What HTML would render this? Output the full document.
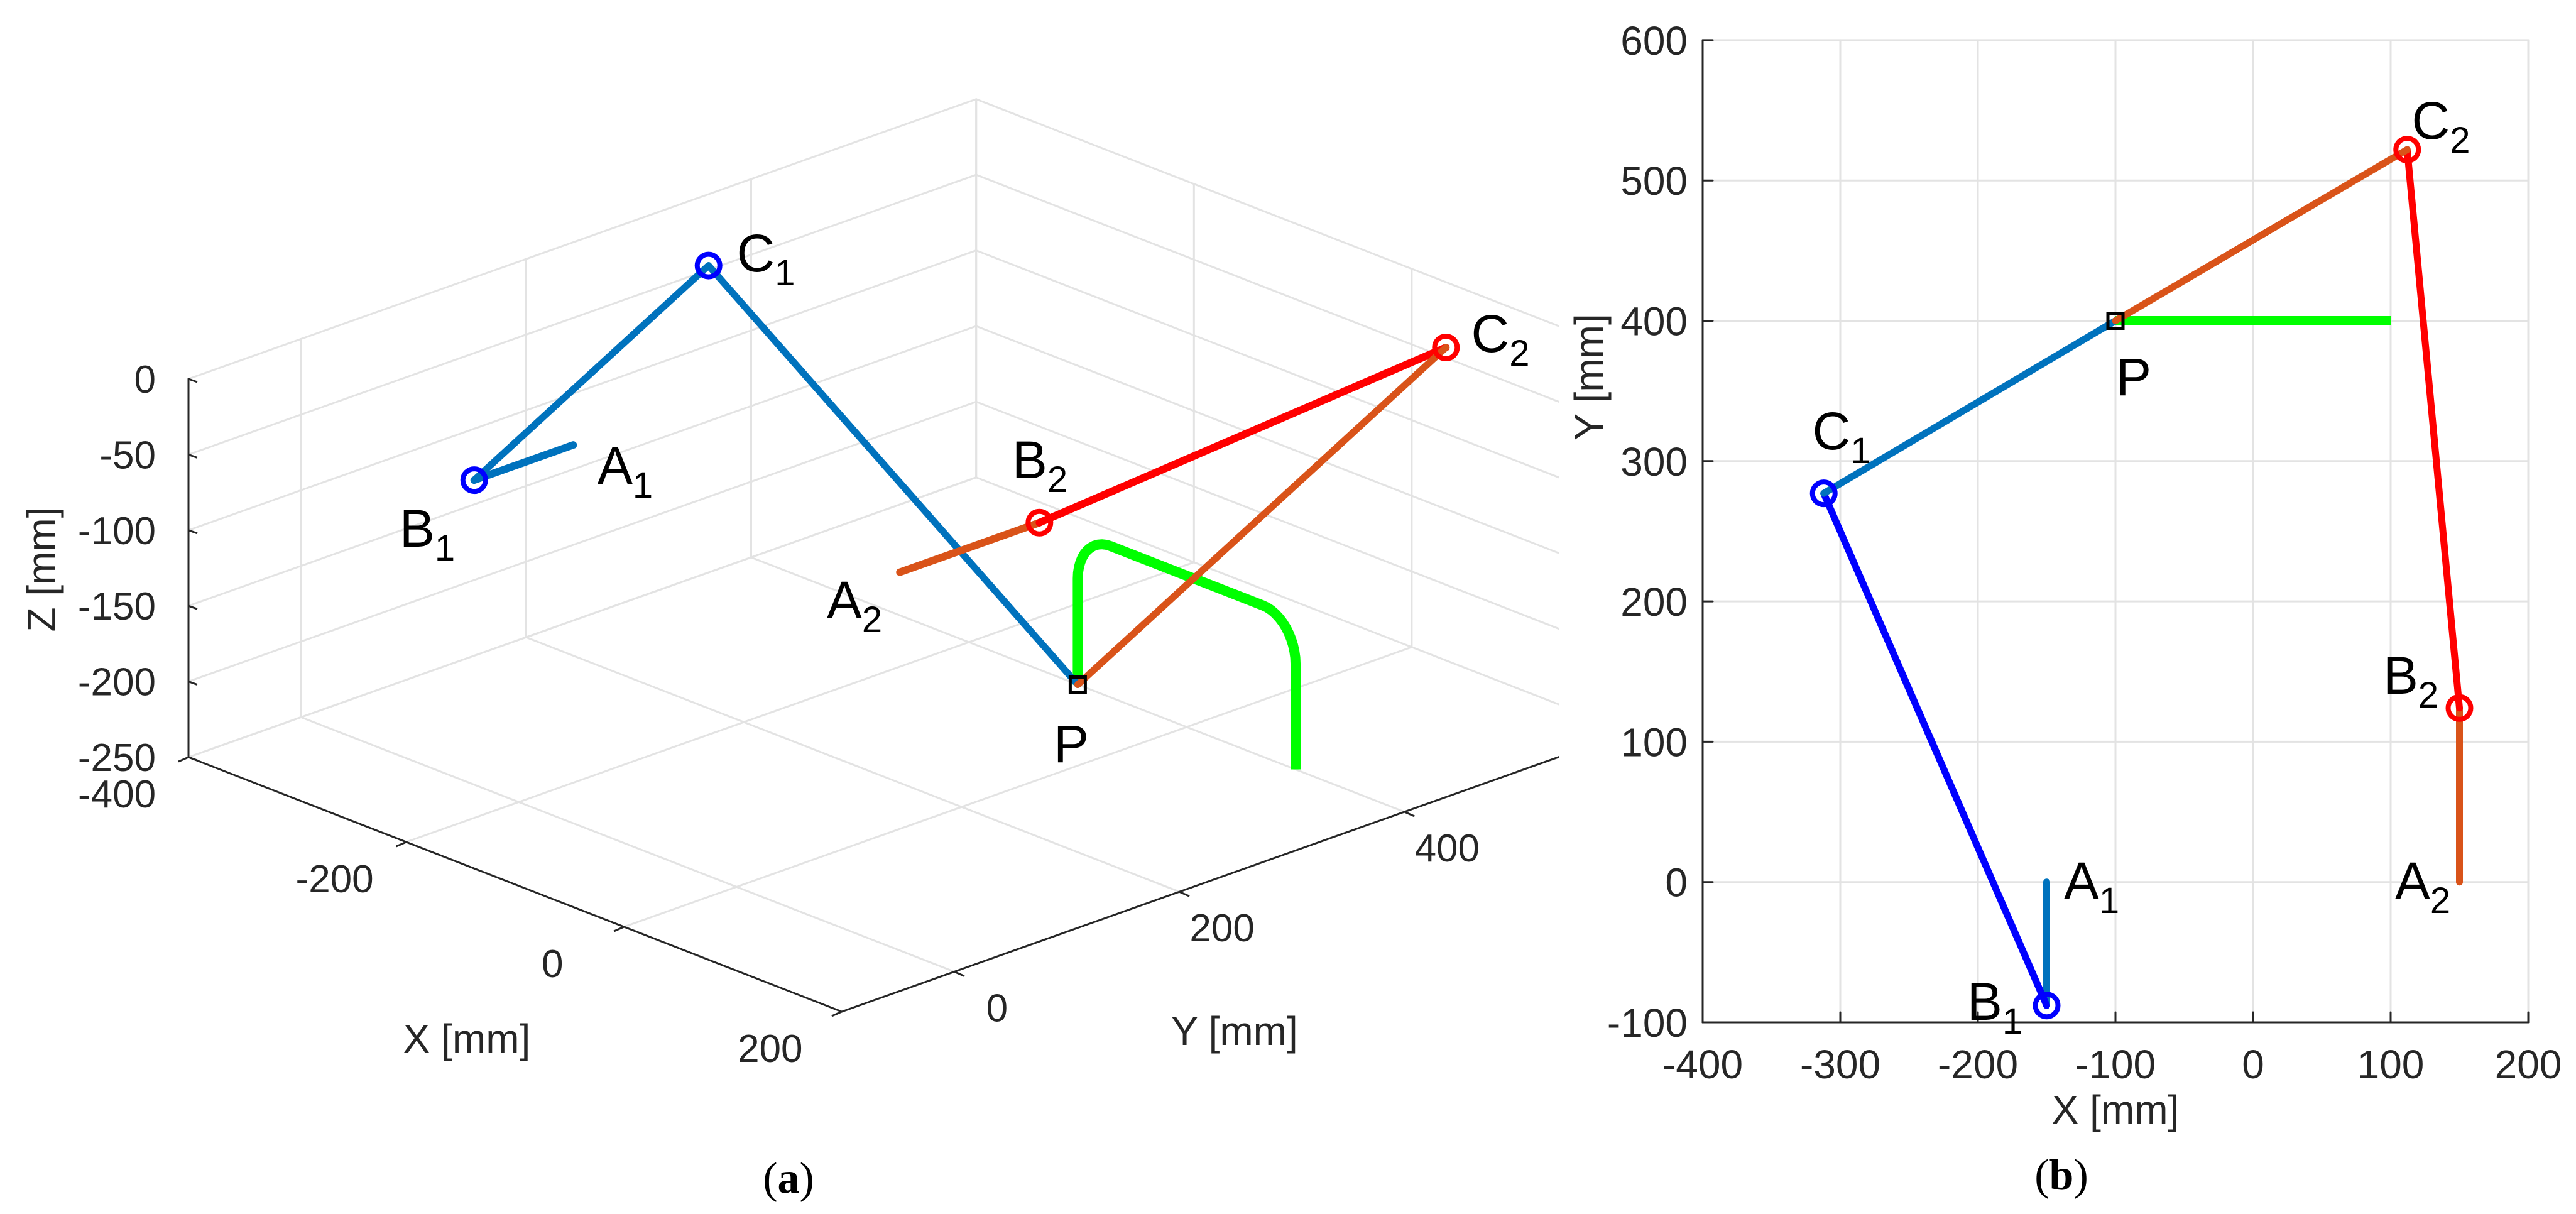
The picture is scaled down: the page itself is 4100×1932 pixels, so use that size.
<!DOCTYPE html>
<html><head><meta charset="utf-8"><style>
html,body{margin:0;padding:0;background:#fff;}
svg{display:block;font-family:"Liberation Sans",Arial,sans-serif;}
</style></head><body>
<svg id="fig" width="4100" height="1932" viewBox="0 0 4100 1932" xmlns="http://www.w3.org/2000/svg">
<defs><clipPath id="clip3d"><rect x="0" y="0" width="2482" height="1932"/></clipPath></defs>
<g id="p3d" clip-path="url(#clip3d)"></g>
<g id="p3dlab"></g>
<g id="p2d"></g>
<text x="1255" y="1898" font-family="Liberation Serif,serif" font-size="70" text-anchor="middle">(<tspan font-weight="bold">a</tspan>)</text>
<text x="3281" y="1893" font-family="Liberation Serif,serif" font-size="70" text-anchor="middle">(<tspan font-weight="bold">b</tspan>)</text>
</svg>
<script>
// ---- data ----
const pointNames = ['A1','B1','C1','P','C2','B2','A2'];
const pointX = [-150,-150,-312,-100,112,150,150];
const pointY = [0,-88,277,400,522,124,0];
const pointZ = [0,0,0,-250,0,0,0];
const pathX = [-100,100];
const pathY = [400,400];
const pathZlow = -250;
const pathZhigh = -150;
const cornerR = 30;
const xTicks2d = [-400,-300,-200,-100,0,100,200];
const yTicks2d = [-100,0,100,200,300,400,500,600];
const xTicks3d = [-400,-200,0,200];
const yTicks3d = [0,200,400];
const zTicks3d = [0,-50,-100,-150,-200,-250];
const zGrid3d = [0,-50,-100,-150,-200,-250];

const NS='http://www.w3.org/2000/svg';
function mk(parent,tag,attrs){const e=document.createElementNS(NS,tag);for(const k in attrs)e.setAttribute(k,attrs[k]);parent.appendChild(e);return e;}
const idx = n => pointNames.indexOf(n);

// ---- 3D projection ----
const XR=[-400,200],YR=[-100,600],ZR=[-250,0];
function P3(x,y,z){return [300+(x+400)*1.733+(y+100)*1.791, 1205+(x+400)*0.675-(y+100)*0.636-(z+250)*2.408];}
const g3=document.getElementById('p3d');
const g3l=document.getElementById('p3dlab');
function line3(g,a,b,st,w,name){const p=P3(...a),q=P3(...b);const e=mk(g,'line',{x1:p[0],y1:p[1],x2:q[0],y2:q[1],stroke:st,'stroke-width':w,'stroke-linecap':'round'});

return e;}
const GC='#e3e3e3';
zGrid3d.forEach(z=>line3(g3,[-400,YR[0],z],[-400,YR[1],z],GC,3,'grid-line'));
yTicks3d.concat([YR[1]]).forEach(y=>line3(g3,[-400,y,ZR[0]],[-400,y,ZR[1]],GC,3,'grid-line'));
zGrid3d.forEach(z=>line3(g3,[XR[0],600,z],[XR[1],600,z],GC,3,'grid-line'));
xTicks3d.forEach(x=>line3(g3,[x,600,ZR[0]],[x,600,ZR[1]],GC,3,'grid-line'));
xTicks3d.forEach(x=>line3(g3,[x,YR[0],-250],[x,YR[1],-250],GC,3,'grid-line'));
yTicks3d.forEach(y=>line3(g3,[XR[0],y,-250],[XR[1],y,-250],GC,3,'grid-line'));
line3(g3,[-400,-100,-250],[-400,-100,0],'#262626',3,'z-axis-line');
line3(g3,[-400,-100,-250],[200,-100,-250],'#262626',3,'x-axis-line');
line3(g3,[200,-100,-250],[200,600,-250],'#262626',3,'y-axis-line');
zTicks3d.forEach(z=>{const p=P3(-400,-100,z);
 const t=mk(g3,'line',{x1:p[0],y1:p[1],x2:p[0]+14,y2:p[1]+5,stroke:'#262626','stroke-width':3});
 
 
 const l=mk(g3l,'text',{x:p[0]-52,y:p[1]+22,'font-size':62,'text-anchor':'end',fill:'#262626'});l.textContent=z;
 
 });
xTicks3d.forEach(x=>{const p=P3(x,-100,-250);
 const t=mk(g3,'line',{x1:p[0],y1:p[1],x2:p[0]-16,y2:p[1]+7,stroke:'#262626','stroke-width':3});
 
 
 const l=mk(g3l,'text',{x:p[0]-114,y:p[1]+80,'font-size':62,'text-anchor':'middle',fill:'#262626'});l.textContent=x;
 
 });
yTicks3d.forEach(y=>{const p=P3(200,y,-250);
 const t=mk(g3,'line',{x1:p[0],y1:p[1],x2:p[0]+16,y2:p[1]+7,stroke:'#262626','stroke-width':3});
 
 
 const l=mk(g3l,'text',{x:p[0]+68,y:p[1]+79,'font-size':62,'text-anchor':'middle',fill:'#262626'});l.textContent=y;
 
 });
{let t=mk(g3l,'text',{x:743,y:1675,'font-size':64,'text-anchor':'middle',fill:'#262626'});t.textContent='X [mm]';


t=mk(g3l,'text',{x:1965,y:1663,'font-size':64,'text-anchor':'middle',fill:'#262626'});t.textContent='Y [mm]';


t=mk(g3l,'text',{x:0,y:0,'font-size':64,'text-anchor':'middle',fill:'#262626',transform:'translate(88,906) rotate(-90)'});t.textContent='Z [mm]';

}

const BLUE='#0072BD',ORANGE='#D95319',RED='#FF0000',PBLUE='#0000FF',GREEN='#00FF00';
function pt3(n){const i=idx(n);return [pointX[i],pointY[i],pointZ[i]];}
{const x0=pathX[0],x1=pathX[1],y=pathY[0];
 const pts=[];
 pts.push([x0,y,pathZlow]);
 for(let k=0;k<=12;k++){const a=Math.PI*(1-k/24);pts.push([x0+cornerR+cornerR*Math.cos(a),y,pathZhigh-cornerR+cornerR*Math.sin(a)]);}
 for(let k=0;k<=12;k++){const a=Math.PI/2-Math.PI/2*k/12;pts.push([x1-cornerR+cornerR*Math.cos(a),y,pathZhigh-cornerR+cornerR*Math.sin(a)]);}
 pts.push([x1,y,pathZlow]);
 const d=pts.map((p,i)=>{const q=P3(...p);return (i?'L':'M')+q[0].toFixed(1)+' '+q[1].toFixed(1);}).join(' ');
 const e=mk(g3,'path',{d:d,fill:'none',stroke:GREEN,'stroke-width':16,'stroke-linejoin':'round'});
 
 }
line3(g3,pt3('A1'),pt3('B1'),BLUE,12,'link-a1-b1');
line3(g3,pt3('B1'),pt3('C1'),BLUE,11,'link-b1-c1');
line3(g3,pt3('C1'),pt3('P'),BLUE,11,'link-c1-p');
line3(g3,pt3('A2'),pt3('B2'),ORANGE,12,'link-a2-b2');
line3(g3,pt3('B2'),pt3('C2'),RED,12,'link-b2-c2');
line3(g3,pt3('C2'),pt3('P'),ORANGE,11,'link-c2-p');
function marker(g,xy,col,name){const e=mk(g,'circle',{cx:xy[0],cy:xy[1],r:18,fill:'none',stroke:col,'stroke-width':8});
 
 }
function sq(g,xy,name){const e=mk(g,'rect',{x:xy[0]-12,y:xy[1]-12,width:24,height:24,fill:'none',stroke:'#000','stroke-width':5});
 
 }
marker(g3,P3(...pt3('B1')),PBLUE,'marker-b1');
marker(g3,P3(...pt3('C1')),PBLUE,'marker-c1');
marker(g3,P3(...pt3('B2')),RED,'marker-b2');
marker(g3,P3(...pt3('C2')),RED,'marker-c2');
sq(g3,P3(...pt3('P')),'marker-p');

function lab(g,cx,cy,main,sub,name){
 const t=mk(g,'text',{x:cx,y:cy+30,'font-size':84,'text-anchor':'middle',fill:'#000'});
 
 
 t.appendChild(document.createTextNode(main));
 if(sub){const s=mk(t,'tspan',{'font-size':58,dy:22});s.textContent=sub;}
}
lab(g3l,1219,402,'C','1','label-c1-3d');
lab(g3l,680,840,'B','1','label-b1-3d');
lab(g3l,995,740,'A','1','label-a1-3d');
lab(g3l,1360,954,'A','2','label-a2-3d');
lab(g3l,1655,731,'B','2','label-b2-3d');
lab(g3l,2388,530,'C','2','label-c2-3d');
lab(g3l,1705,1183,'P','','label-p-3d');

// ---- 2D ----
const g2=document.getElementById('p2d');
const sx=x=>2710+(x+400)*2.19, sy=y=>1627-(y+100)*2.233;
function ln(g,x1,y1,x2,y2,st,w,name){const e=mk(g,'line',{x1,y1,x2,y2,stroke:st,'stroke-width':w,'stroke-linecap':'round'});
 
 return e;}
xTicks2d.forEach(x=>ln(g2,sx(x),sy(-100),sx(x),sy(600),GC,3,'grid-line'));
yTicks2d.forEach(y=>ln(g2,sx(-400),sy(y),sx(200),sy(y),GC,3,'grid-line'));
ln(g2,sx(-400),sy(-100),sx(200),sy(-100),'#262626',3,'x-axis-line');
ln(g2,sx(-400),sy(-100),sx(-400),sy(600),'#262626',3,'y-axis-line');
xTicks2d.forEach(x=>{ln(g2,sx(x),sy(-100),sx(x),sy(-100)-16,'#262626',3,'x-tick');
 const t=mk(g2,'text',{x:sx(x),y:1716,'font-size':64,'text-anchor':'middle',fill:'#262626'});t.textContent=x;
 
 });
yTicks2d.forEach(y=>{ln(g2,sx(-400),sy(y),sx(-400)+16,sy(y),'#262626',3,'y-tick');
 const t=mk(g2,'text',{x:2686,y:sy(y)+23,'font-size':64,'text-anchor':'end',fill:'#262626'});t.textContent=y;
 
 });
{let t=mk(g2,'text',{x:3367,y:1788,'font-size':64,'text-anchor':'middle',fill:'#262626'});t.textContent='X [mm]';


t=mk(g2,'text',{x:0,y:0,'font-size':64,'text-anchor':'middle',fill:'#262626',transform:'translate(2551,600) rotate(-90)'});t.textContent='Y [mm]';

}
function p2(n){const i=idx(n);return [sx(pointX[i]),sy(pointY[i])];}
ln(g2,sx(pathX[0]),sy(pathY[0]),sx(pathX[1]),sy(pathY[1]),GREEN,15,'green-trajectory-2d').setAttribute('stroke-linecap','butt');
function seg(a,b,col,w,name){const p=p2(a),q=p2(b);ln(g2,p[0],p[1],q[0],q[1],col,w,name);}
seg('A1','B1',BLUE,11,'link-a1-b1-2d');
seg('B1','C1',PBLUE,11,'link-b1-c1-2d');
seg('C1','P',BLUE,11,'link-c1-p-2d');
seg('A2','B2',ORANGE,11,'link-a2-b2-2d');
seg('B2','C2',RED,11,'link-b2-c2-2d');
seg('C2','P',ORANGE,11,'link-c2-p-2d');
marker(g2,p2('B1'),PBLUE,'marker-b1-2d');
marker(g2,p2('C1'),PBLUE,'marker-c1-2d');
marker(g2,p2('B2'),RED,'marker-b2-2d');
marker(g2,p2('C2'),RED,'marker-c2-2d');
sq(g2,p2('P'),'marker-p-2d');
lab(g2,3885,191,'C','2','label-c2-2d');
lab(g2,3396,599,'P','','label-p-2d');
lab(g2,2931,685,'C','1','label-c1-2d');
lab(g2,3837,1074,'B','2','label-b2-2d');
lab(g2,3329,1401,'A','1','label-a1-2d');
lab(g2,3856,1401,'A','2','label-a2-2d');
lab(g2,3175,1593,'B','1','label-b1-2d');
</script>
</body></html>
